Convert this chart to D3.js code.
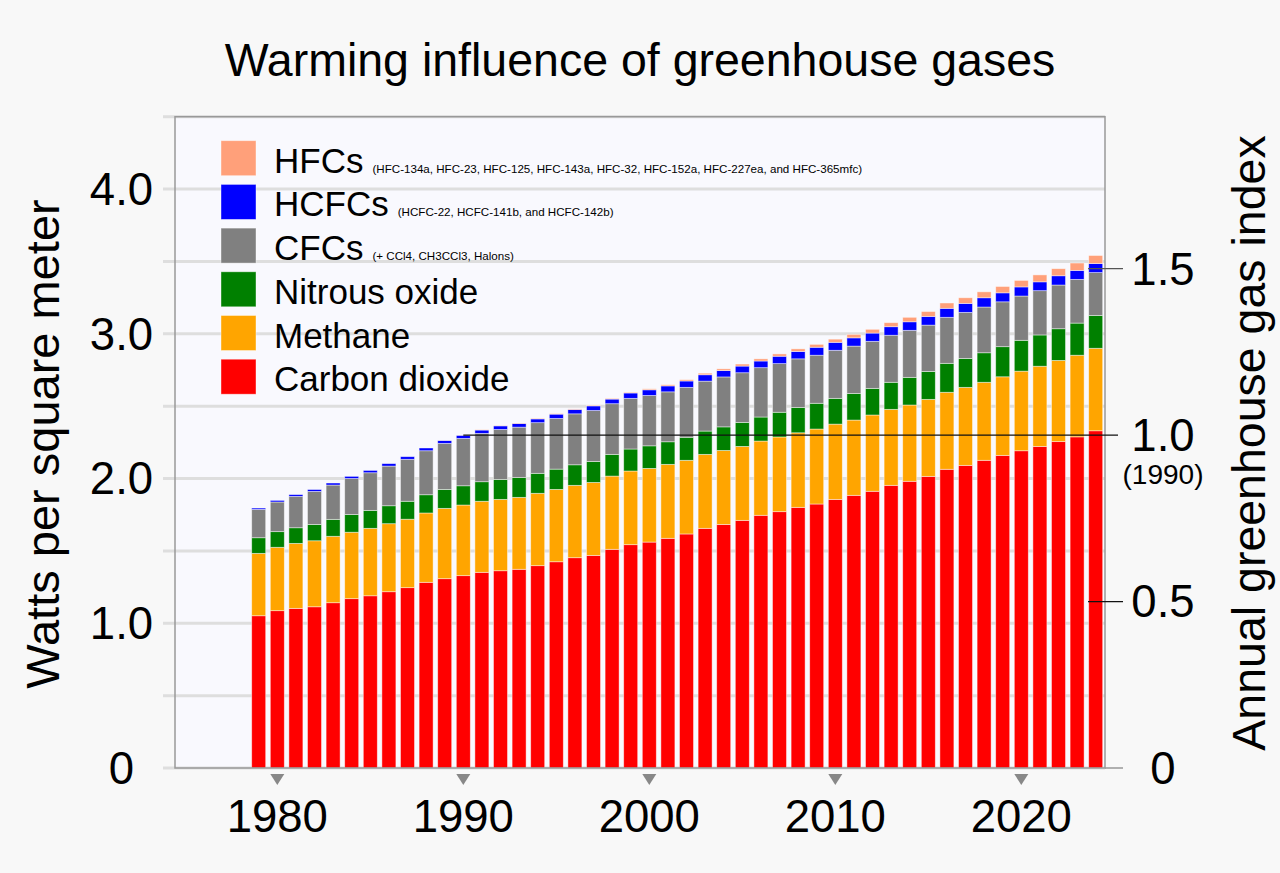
<!DOCTYPE html>
<html>
<head>
<meta charset="utf-8">
<script src="https://cdnjs.cloudflare.com/ajax/libs/d3/7.8.5/d3.min.js"></script>
<style>
body { margin: 0; background: #f8f8f8; }
text { font-family: "Liberation Sans", Arial, sans-serif; fill: #000; }
</style>
</head>
<body>
<script>
// years on the x axis
var years = [1979,1980,1981,1982,1983,1984,1985,1986,1987,1988,1989,1990,
             1991,1992,1993,1994,1995,1996,1997,1998,1999,2000,
             2001,2002,2003,2004,2005,2006,2007,2008,2009,2010,
             2011,2012,2013,2014,2015,2016,2017,2018,2019,2020,
             2021,2022,2023,2024];

// radiative forcing, W/m2
var co2 = [1.052,1.087,1.103,1.114,1.142,1.170,1.190,1.218,1.246,1.283,1.308,1.329,
           1.352,1.363,1.373,1.398,1.425,1.453,1.469,1.511,1.543,1.561,
           1.587,1.617,1.656,1.683,1.711,1.746,1.771,1.801,1.824,1.856,
           1.884,1.912,1.953,1.981,2.015,2.064,2.091,2.126,2.160,2.192,
           2.222,2.255,2.288,2.330];
var ch4 = [0.431,0.438,0.449,0.456,0.459,0.459,0.466,0.470,0.473,0.479,0.486,0.488,
           0.491,0.493,0.497,0.500,0.500,0.500,0.504,0.506,0.509,0.509,
           0.511,0.509,0.511,0.511,0.511,0.513,0.516,0.515,0.518,0.520,
           0.520,0.527,0.525,0.527,0.532,0.532,0.539,0.539,0.543,0.550,
           0.554,0.561,0.564,0.570];
var n2o = [0.108,0.108,0.108,0.113,0.117,0.122,0.124,0.124,0.124,0.126,0.131,0.133,
           0.135,0.138,0.137,0.138,0.140,0.142,0.145,0.150,0.152,0.156,
           0.156,0.159,0.161,0.163,0.166,0.166,0.171,0.175,0.178,0.178,
           0.184,0.184,0.187,0.191,0.193,0.200,0.200,0.204,0.208,0.213,
           0.216,0.219,0.222,0.227];
var cfcs = [0.196,0.205,0.217,0.228,0.237,0.249,0.260,0.274,0.290,0.304,0.318,0.327,
            0.334,0.345,0.348,0.350,0.350,0.352,0.352,0.350,0.350,0.348,
            0.345,0.345,0.345,0.345,0.343,0.341,0.336,0.336,0.332,0.332,
            0.327,0.325,0.325,0.325,0.320,0.318,0.318,0.316,0.310,0.306,
            0.306,0.302,0.302,0.296];
var hcfcs = [0.009,0.011,0.012,0.013,0.014,0.015,0.016,0.017,0.018,0.019,0.020,0.022,
             0.023,0.025,0.025,0.026,0.030,0.030,0.032,0.032,0.037,0.039,
             0.041,0.044,0.044,0.044,0.046,0.046,0.051,0.051,0.055,0.055,
             0.057,0.057,0.059,0.059,0.060,0.062,0.062,0.064,0.062,0.063,
             0.061,0.064,0.062,0.062];
var hfcs = [0,0,0,0,0,0,0,0,0,0,0.001,0.001,
            0.002,0.002,0.003,0.004,0.004,0.004,0.005,0.005,0.005,0.007,
            0.008,0.009,0.011,0.012,0.014,0.015,0.016,0.018,0.020,0.022,
            0.024,0.026,0.028,0.031,0.034,0.037,0.039,0.041,0.044,0.045,
            0.048,0.049,0.051,0.056];

var yearTicks = [1980,1990,2000,2010,2020];
var wattTicks = [0,1,2,3,4];
var wattTickLabels = ["0","1.0","2.0","3.0","4.0"];
var gridValues = [0,0.5,1,1.5,2,2.5,3,3.5,4,4.5];
var aggiTicks = [0,0.5,1,1.5];
var aggiTickLabels = ["0","0.5","1.0","1.5"];

var keys = ["co2","ch4","n2o","cfcs","hcfcs","hfcs"];
var colors = {co2:"#ff0000", ch4:"#ffa500", n2o:"#008000", cfcs:"#808080", hcfcs:"#0000ff", hfcs:"#ffa07a"};
var legendItems = [
    {key:"hfcs", name:"HFCs", note:"(HFC-134a, HFC-23, HFC-125, HFC-143a, HFC-32, HFC-152a, HFC-227ea, and HFC-365mfc)"},
    {key:"hcfcs", name:"HCFCs", note:"(HCFC-22, HCFC-141b, and HCFC-142b)"},
    {key:"cfcs", name:"CFCs", note:"(+ CCl4, CH3CCl3, Halons)"},
    {key:"n2o", name:"Nitrous oxide", note:""},
    {key:"ch4", name:"Methane", note:""},
    {key:"co2", name:"Carbon dioxide", note:""}
];

var rows = years.map(function(yr, i){
    return {year:yr, co2:co2[i], ch4:ch4[i], n2o:n2o[i], cfcs:cfcs[i], hcfcs:hcfcs[i], hfcs:hfcs[i]};
});

var w = 1280, h = 873;
var pLeft = 175, pRight = 1105, pTop = 116.7, pBottom = 768;

var xScale = d3.scaleLinear().domain([1974.5, 2024.5]).range([pLeft, pRight]);
var yScale = d3.scaleLinear().domain([0, 4.5]).range([pBottom, pTop]);

// AGGI: 1990 total forcing = 1.0
var total1990 = d3.sum(keys, function(k){ return rows[years.indexOf(1990)][k]; });
var aggiScale = d3.scaleLinear().domain([0, 1]).range([yScale(0), yScale(total1990)]);

var svg = d3.select("body").append("svg").attr("width", w).attr("height", h);

// plot background
svg.append("rect").attr("x", pLeft).attr("y", pTop)
    .attr("width", pRight - pLeft).attr("height", pBottom - pTop)
    .attr("fill", "#f9f9fe");

// grid lines
svg.append("g").selectAll("line").data(gridValues).enter().append("line")
    .attr("x1", 163).attr("x2", pRight)
    .attr("y1", function(d){ return yScale(d); })
    .attr("y2", function(d){ return yScale(d); })
    .attr("stroke", "#dedede").attr("stroke-width", 3);

// stacked bars
var stacked = d3.stack().keys(keys)(rows);
var barW = 14;
svg.append("g").selectAll("g").data(stacked).enter().append("g")
    .attr("fill", function(d){ return colors[d.key]; })
    .selectAll("rect")
    .data(function(d){ return d.filter(function(s){ return s[1] > s[0]; }); })
    .enter().append("rect")
    .attr("x", function(d){ return xScale(d.data.year) - barW / 2; })
    .attr("y", function(d){ return yScale(d[1]); })
    .attr("width", barW)
    .attr("height", function(d){ return yScale(d[0]) - yScale(d[1]); })
    .attr("stroke", "#ffffff").attr("stroke-opacity", 0.55).attr("stroke-width", 0.8);

// frame
svg.append("rect").attr("x", pLeft).attr("y", pTop)
    .attr("width", pRight - pLeft).attr("height", pBottom - pTop)
    .attr("fill", "none").attr("stroke", "#999").attr("stroke-width", 1.5);

// left tick labels
svg.append("g").selectAll("text").data(wattTicks).enter().append("text")
    .attr("x", 121.5).attr("y", function(d){ return yScale(d); })
    .attr("dy", "0.35em").attr("text-anchor", "middle")
    .attr("font-size", 45.5)
    .text(function(d, i){ return wattTickLabels[i]; });

// x ticks: small triangles + year labels
var xt = svg.append("g").selectAll("g").data(yearTicks).enter().append("g")
    .attr("transform", function(d){ return "translate(" + xScale(d) + ",0)"; });
xt.append("path").attr("d", "M-7,774L7,774L0,785Z").attr("fill", "#888");
xt.append("text").attr("y", 832).attr("text-anchor", "middle")
    .attr("font-size", 45.5).text(function(d){ return d; });

// right axis (AGGI)
svg.append("g").selectAll("line").data(aggiTicks).enter().append("line")
    .attr("x1", function(d){ return d === 0 ? pRight : (d === 1 ? xScale(1990) : 1088); })
    .attr("x2", function(d){ return d === 1 ? 1118 : 1123; })
    .attr("y1", function(d){ return aggiScale(d); })
    .attr("y2", function(d){ return aggiScale(d); })
    .attr("stroke", function(d){ return d === 0 ? "#999" : (d === 1.5 ? "#555" : "#111"); })
    .attr("stroke-width", function(d){ return d === 0 ? 1.5 : 1.3; });

svg.append("g").selectAll("text").data(aggiTicks).enter().append("text")
    .attr("x", 1163).attr("y", function(d){ return aggiScale(d); })
    .attr("dy", "0.35em").attr("text-anchor", "middle")
    .attr("font-size", 45.5)
    .text(function(d, i){ return aggiTickLabels[i]; });

svg.append("text").attr("x", 1163).attr("y", 484)
    .attr("text-anchor", "middle").attr("font-size", 28).text("(1990)");

// axis titles
svg.append("text").attr("transform", "translate(59,444) rotate(-90)")
    .attr("text-anchor", "middle").attr("font-size", 47).text("Watts per square meter");
svg.append("text").attr("transform", "translate(1265,443) rotate(-90)")
    .attr("text-anchor", "middle").attr("font-size", 46.5).text("Annual greenhouse gas index");

// title
svg.append("text").attr("x", 640).attr("y", 76)
    .attr("text-anchor", "middle").attr("font-size", 46.5)
    .text("Warming influence of greenhouse gases");

// legend
var lg = svg.append("g").selectAll("g").data(legendItems).enter().append("g")
    .attr("transform", function(d, i){ return "translate(221," + (140.7 + i * 43.7) + ")"; });
lg.append("rect").attr("width", 35).attr("height", 35)
    .attr("fill", function(d){ return colors[d.key]; })
    .attr("stroke", "#fff").attr("stroke-opacity", 0.5).attr("stroke-width", 0.8);
var lt = lg.append("text").attr("x", 53).attr("y", 32).attr("font-size", 35);
lt.append("tspan").text(function(d){ return d.name; });
lt.append("tspan").attr("dx", 9).attr("font-size", 11.6).text(function(d){ return d.note; });
</script>
</body>
</html>
